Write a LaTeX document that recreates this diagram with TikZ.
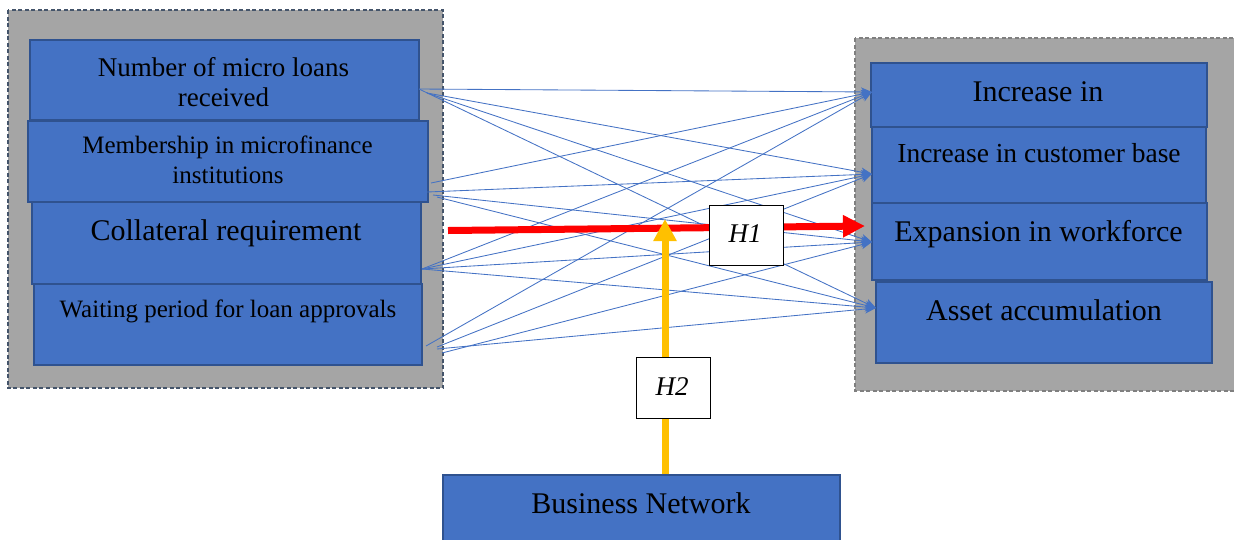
\documentclass[tikz,border=0pt]{standalone}
\usepackage{fontspec}
\setmainfont{Liberation Serif}
\usetikzlibrary{arrows.meta}
\definecolor{boxblue}{HTML}{4472C4}
\definecolor{boxedge}{HTML}{2F528F}
\definecolor{panelgray}{HTML}{A5A5A5}
\definecolor{leftdash}{HTML}{44546A}
\definecolor{rightdash}{HTML}{7F7F7F}
\definecolor{hyred}{HTML}{FF0000}
\definecolor{hyyellow}{HTML}{FFC000}
\tikzset{
  panel/.style={fill=panelgray, line width=1.5pt, dash pattern=on 4pt off 2.5pt},
  varbox/.style={draw=boxedge, fill=boxblue, line width=1.6pt, inner sep=0pt, rectangle},
  hbox/.style={draw=black, fill=white, line width=0.9pt, inner sep=0pt, rectangle},
  txt/.style={anchor=base, inner sep=0pt, text=black},
  link/.style={draw=boxblue, line width=0.85pt, -{Stealth[length=11pt,width=9pt,inset=3pt]}},
}
\newcommand{\fs}[1]{\fontsize{#1}{#1}\selectfont}
\begin{document}
\begin{tikzpicture}[x=1pt, y=-1pt]
\useasboundingbox (0,0) rectangle (1234,539);

% grey panels holding the two groups of variables
\draw[panel, draw=leftdash] (8,10) rectangle (443,388);
\draw[panel, draw=rightdash] (855,38) rectangle (1250,391);

% independent variables
\node[varbox, minimum width=389pt, minimum height=80pt] (l1) at (224.5,80) {};
\node[varbox, minimum width=400pt, minimum height=81pt] (l2) at (228,161.5) {};
\node[varbox, minimum width=389pt, minimum height=82pt] (l3) at (226.5,243) {};
\node[varbox, minimum width=388pt, minimum height=81pt] (l4) at (228,324.5) {};
\node[txt] (l1a) at (223.5,76) {\fs{27}Number of micro loans};
\node[txt] (l1b) at (223.5,106) {\fs{27}received};
\node[txt] (l2a) at (227.5,153) {\fs{25}Membership in microfinance};
\node[txt] (l2b) at (228,183) {\fs{25}institutions};
\node[txt] (l3a) at (226,240) {\fs{30}Collateral requirement};
\node[txt] (l4a) at (228,317) {\fs{25}Waiting period for loan approvals};

% dependent variables
\node[varbox, minimum width=336pt, minimum height=64pt] (r1) at (1039,95) {};
\node[varbox, minimum width=334pt, minimum height=76pt] (r2) at (1039,165) {};
\node[varbox, minimum width=335pt, minimum height=77pt] (r3) at (1039.5,241.5) {};
\node[varbox, minimum width=336pt, minimum height=81pt] (r4) at (1044,322.5) {};
\node[txt] (r1a) at (1038,101) {\fs{30}Increase in};
\node[txt] (r2a) at (1039,162) {\fs{27.5}Increase in customer base};
\node[txt] (r3a) at (1038.5,241) {\fs{30}Expansion in workforce};
\node[txt] (r4a) at (1044,320) {\fs{30}Asset accumulation};

% moderator
\node[varbox, minimum width=397pt, minimum height=85pt] (bn) at (641.5,517.5) {};
\node[txt] (bna) at (641,513) {\fs{30}Business Network};

% connector end points
\coordinate (a1) at (419,89);
\coordinate (a2) at (427,93);
\coordinate (b1) at (431,183);
\coordinate (b2) at (427,192);
\coordinate (b3) at (433,195);
\coordinate (b4) at (437,197);
\coordinate (c1) at (422,269);
\coordinate (d1) at (426,346);
\coordinate (d2) at (437,347);
\coordinate (d3) at (442,353);
\coordinate (d4) at (437,349);
\coordinate (t1) at (872,92);
\coordinate (t2) at (872,174);
\coordinate (t3) at (872,242);
\coordinate (t4) at (876,308);

% every independent variable linked to every outcome
\draw[link] (a1) -- (t1);
\draw[link] (a2) -- (t2);
\draw[link] (a2) -- (t3);
\draw[link] (a1) -- (t4);
\draw[link] (b1) -- (t1);
\draw[link] (b2) -- (t2);
\draw[link] (b3) -- (t3);
\draw[link] (b4) -- (t4);
\draw[link] (c1) -- (t1);
\draw[link] (c1) -- (t2);
\draw[link] (c1) -- (t3);
\draw[link] (c1) -- (t4);
\draw[link] (d1) -- (t1);
\draw[link] (d2) -- (t2);
\draw[link] (d3) -- (t3);
\draw[link] (d4) -- (t4);

% hypothesis arrows
\coordinate (h1s) at (448,230.5);
\coordinate (h1e) at (865,226);
\draw[hyred, line width=7pt, -{Triangle[length=22pt,width=21pt]}] (h1s) -- (h1e);
\coordinate (h2e) at (665,219);
\draw[hyyellow, line width=7pt, -{Triangle[length=22pt,width=22pt]}] (bn.north -| h2e) -- (h2e);

\node[hbox, minimum width=74pt, minimum height=60pt] (h1) at (746,235) {};
\node[txt] (h1a) at (745,242) {\fs{27}\itshape H1};
\node[hbox, minimum width=74pt, minimum height=61pt] (h2) at (673,387.5) {};
\node[txt] (h2a) at (672,395) {\fs{27}\itshape H2};
\end{tikzpicture}
\end{document}
